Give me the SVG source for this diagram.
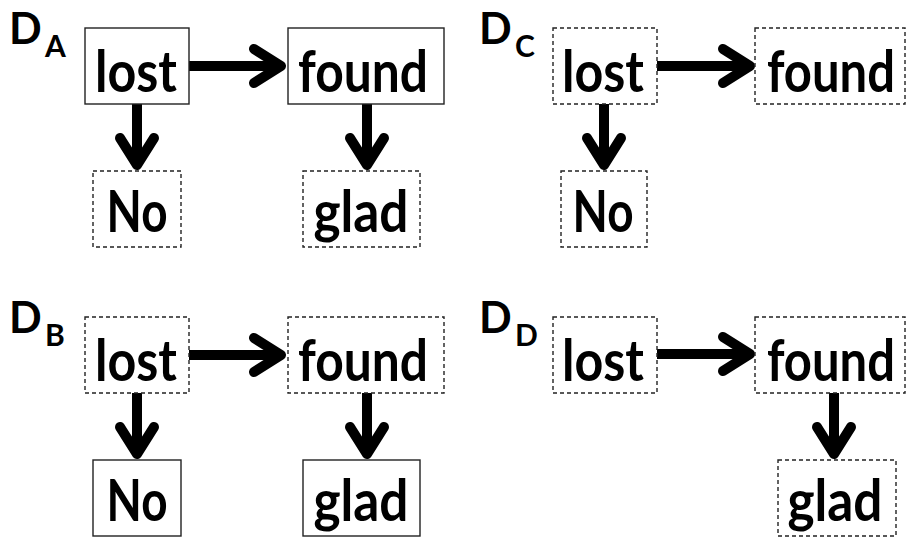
<svg xmlns="http://www.w3.org/2000/svg" width="906" height="537" viewBox="0 0 906 537">
<style>
.box{fill:#fff;stroke:#222;stroke-width:1.4}
.dash{stroke-dasharray:4,3}
.t{font-family:Lato,"Open Sans",sans-serif;font-weight:700;font-size:57px;fill:#000;text-anchor:middle}
.lbl{font-family:Lato,"Open Sans",sans-serif;font-weight:700;font-size:43px;fill:#000}
.sub{font-family:Lato,"Open Sans",sans-serif;font-weight:700;font-size:30px;fill:#000}
.arr{fill:none;stroke:#000;stroke-width:10;marker-end:url(#ah)}
</style>
<defs>
<marker id="ah" markerUnits="userSpaceOnUse" orient="auto" overflow="visible" markerWidth="1" markerHeight="1" refX="0" refY="0">
<path d="M-27,-17 L0,0 L-27,17" fill="none" stroke="#000" stroke-width="10" stroke-linecap="round" stroke-linejoin="round"/>
</marker>
</defs>
<rect width="906" height="537" fill="#fff"/>

<g id="labels">
<text class="lbl" x="9" y="44">D</text><text class="sub" x="45" y="57">A</text>
<text class="lbl" x="479" y="44">D</text><text class="sub" x="515" y="57">C</text>
<text class="lbl" x="9" y="333">D</text><text class="sub" x="45" y="346">B</text>
<text class="lbl" x="479" y="333">D</text><text class="sub" x="515" y="346">D</text>
</g>

<g id="connectors">
<path class="arr" d="M189,66 H281"/>
<path class="arr" d="M137,104 V165"/>
<path class="arr" d="M367,104 V165"/>
<path class="arr" d="M189,355 H281"/>
<path class="arr" d="M137,393 V454"/>
<path class="arr" d="M367,393 V454"/>
<path class="arr" d="M657,66 H750"/>
<path class="arr" d="M604,104 V165"/>
<path class="arr" d="M657,354 H750"/>
<path class="arr" d="M834,393 V454"/>
</g>

<g id="A-lost"><rect class="box" x="85" y="28" width="104" height="76"/><text class="t" x="136" y="92" textLength="82" lengthAdjust="spacingAndGlyphs">lost</text></g>
<g id="A-found"><rect class="box" x="288" y="28" width="156" height="76"/><text class="t" x="363" y="92" textLength="130" lengthAdjust="spacingAndGlyphs">found</text></g>
<g id="A-No"><rect class="box dash" x="93" y="171" width="88" height="76"/><text class="t" x="137" y="232" textLength="61" lengthAdjust="spacingAndGlyphs">No</text></g>
<g id="A-glad"><rect class="box dash" x="303" y="171" width="117" height="76"/><text class="t" x="361" y="232" textLength="95" lengthAdjust="spacingAndGlyphs">glad</text></g>

<g id="B-lost"><rect class="box dash" x="85" y="317" width="104" height="76"/><text class="t" x="136" y="381" textLength="82" lengthAdjust="spacingAndGlyphs">lost</text></g>
<g id="B-found"><rect class="box dash" x="288" y="317" width="156" height="76"/><text class="t" x="363" y="381" textLength="130" lengthAdjust="spacingAndGlyphs">found</text></g>
<g id="B-No"><rect class="box" x="93" y="460" width="88" height="76"/><text class="t" x="137" y="521" textLength="61" lengthAdjust="spacingAndGlyphs">No</text></g>
<g id="B-glad"><rect class="box" x="303" y="460" width="117" height="76"/><text class="t" x="361" y="521" textLength="95" lengthAdjust="spacingAndGlyphs">glad</text></g>

<g id="C-lost"><rect class="box dash" x="553" y="28" width="104" height="76"/><text class="t" x="603" y="92" textLength="82" lengthAdjust="spacingAndGlyphs">lost</text></g>
<g id="C-found"><rect class="box dash" x="755" y="28" width="150" height="76"/><text class="t" transform="translate(831,92) scale(0.86,1)" x="0" y="0">found</text></g>
<g id="C-No"><rect class="box dash" x="561" y="171" width="86" height="76"/><text class="t" x="603" y="232" textLength="61" lengthAdjust="spacingAndGlyphs">No</text></g>

<g id="D-lost"><rect class="box dash" x="553" y="317" width="104" height="76"/><text class="t" x="603" y="381" textLength="82" lengthAdjust="spacingAndGlyphs">lost</text></g>
<g id="D-found"><rect class="box dash" x="755" y="317" width="150" height="76"/><text class="t" transform="translate(831,381) scale(0.86,1)" x="0" y="0">found</text></g>
<g id="D-glad"><rect class="box dash" x="778" y="460" width="118" height="76"/><text class="t" x="835" y="521" textLength="95" lengthAdjust="spacingAndGlyphs">glad</text></g>
</svg>
